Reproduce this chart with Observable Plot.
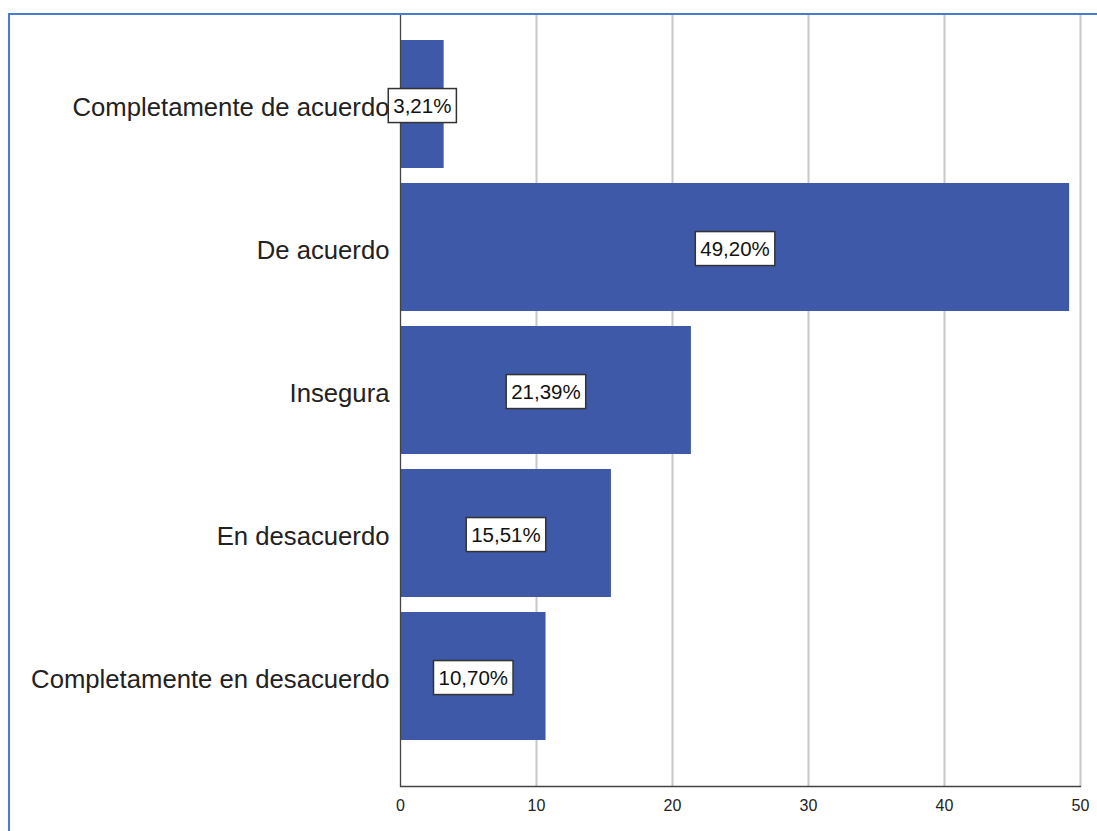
<!DOCTYPE html>
<html>
<head>
<meta charset="utf-8">
<script src="https://cdn.jsdelivr.net/npm/d3@7"></script>
<script src="https://cdn.jsdelivr.net/npm/@observablehq/plot@0.6"></script>
<style>
  html, body { margin: 0; padding: 0; background: #fff; overflow: hidden; }
  #wrap { position: relative; width: 1097px; height: 831px; }
  #border { position: absolute; left: 8px; top: 13px; width: 1200px; height: 900px;
            border-left: 2px solid #4a7bd3; border-top: 2px solid #4a7bd3; pointer-events: none; }
  svg { font-family: "Liberation Sans", Arial, sans-serif; }
</style>
</head>
<body>
<div id="wrap"><div id="border"></div></div>
<script>
const categories = ["Completamente de acuerdo", "De acuerdo", "Insegura", "En desacuerdo", "Completamente en desacuerdo"];
const values = [3.21, 49.20, 21.39, 15.51, 10.70];
const valueLabels = ["3,21%", "49,20%", "21,39%", "15,51%", "10,70%"];
const xTicks = [0, 10, 20, 30, 40, 50];

const data = categories.map((c, i) => ({category: c, value: values[i], label: valueLabels[i]}));

const chart = Plot.plot({
  width: 1097,
  height: 831,
  marginLeft: 400,
  marginRight: 17,
  marginTop: 14,
  marginBottom: 45,
  style: {fontFamily: '"Liberation Sans", Arial, sans-serif', background: "transparent"},
  x: {domain: [0, 50], ticks: xTicks},
  y: {domain: categories, range: [32.5, 747.5], paddingInner: 0.105, paddingOuter: 0.0525},
  marks: [
    Plot.gridX(xTicks.slice(1), {stroke: "#c8c8c8", strokeWidth: 2, strokeOpacity: 1}),
    Plot.barX(data, {x: "value", y: "category", fill: "#3d59a7"}),
    Plot.ruleX([0], {stroke: "#444", strokeWidth: 1.3}),
    Plot.frame({anchor: "bottom", stroke: "#444", strokeWidth: 1.3}),
    Plot.axisX({ticks: xTicks, tickSize: 0, tickPadding: 13, fontSize: 16, fill: "#222", label: null,
                tickFormat: d => String(d)}),
    Plot.axisY({tickSize: 0, tickPadding: 11, fontSize: 25.7, dy: 3, fill: "#222", label: null}),
    Plot.text(data, {x: d => d.value / 2, y: "category", text: "label", fontSize: 20.5, dy: 2, fill: "#111"})
  ]
});

document.getElementById("wrap").prepend(chart);

// make sure the x tick labels use the reference size
chart.querySelectorAll('g[aria-label^="x-axis"]').forEach(gx => {
  gx.setAttribute("font-size", 16);
  gx.querySelectorAll("text").forEach(t => t.style.fontSize = "16px");
});

// white boxes behind value labels
const g = chart.querySelector('g[aria-label="text"]');
if (g) {
  g.querySelectorAll("text").forEach(t => {
    const b = t.getBBox();
    const r = document.createElementNS("http://www.w3.org/2000/svg", "rect");
    const w = b.width + 10, h = 34;
    const cx = b.x + b.width / 2, cy = b.y + b.height / 2;
    r.setAttribute("x", cx - w / 2);
    r.setAttribute("y", cy - h / 2);
    r.setAttribute("width", w);
    r.setAttribute("height", h);
    r.setAttribute("fill", "#fff");
    r.setAttribute("stroke", "#333");
    r.setAttribute("stroke-width", 1.5);
    const tr = t.getAttribute("transform");
    if (tr) r.setAttribute("transform", tr);
    t.parentNode.insertBefore(r, t);
  });
}
</script>
</body>
</html>
